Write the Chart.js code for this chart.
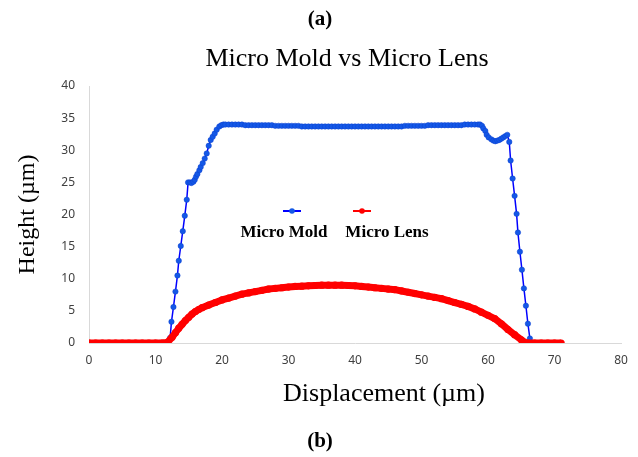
<!DOCTYPE html>
<html>
<head>
<meta charset="utf-8">
<script src="https://cdn.jsdelivr.net/npm/chart.js@4/dist/chart.umd.min.js"></script>
<style>
  html, body { margin: 0; padding: 0; background: #fff; }
  #wrap { position: relative; width: 638px; height: 457px; }
  #chart { position: absolute; left: 0; top: 0; }
  .lbl { position: absolute; transform: translate(-50%, -50%); white-space: nowrap;
         font-family: "Liberation Serif", "Times New Roman", serif; color: #000; line-height: 1; }
</style>
</head>
<body>
<div id="wrap">
  <canvas id="chart" width="638" height="457"></canvas>
  <div class="lbl" style="left:320px; top:18px; font-size:21px; font-weight:bold;">(a)</div>
  <div class="lbl" style="left:347px; top:58px; font-size:26px;">Micro Mold vs Micro Lens</div>
  <div class="lbl" style="left:384px; top:393px; font-size:26px;">Displacement (µm)</div>
  <div class="lbl" style="left:320px; top:440px; font-size:21px; font-weight:bold;">(b)</div>
</div>
<script>
// values
const seriesNames = ['Micro Mold', 'Micro Lens'];

const moldX = [10.0, 10.3, 10.6, 10.9, 11.2, 11.5, 11.9,
  12.2, 12.4, 12.7, 13.0, 13.3, 13.5, 13.8, 14.1, 14.4, 14.7, 14.9,
  15.2, 15.4, 15.7, 15.9, 16.1, 16.3, 16.6, 16.8, 17.1, 17.4, 17.7,
  18.0, 18.3, 18.6, 18.9, 19.2, 19.6, 19.9, 20.2,
  20.5, 21.0, 21.5, 22.0, 22.5, 23.0, 23.5, 24.0, 24.5, 25.0, 25.5, 26.0, 26.5,
  27.0, 27.5, 28.0, 28.5, 29.0, 29.5, 30.0, 30.5, 31.0, 31.5, 32.0, 32.5, 33.0,
  33.5, 34.0, 34.5, 35.0, 35.5, 36.0, 36.5, 37.0, 37.5, 38.0, 38.5, 39.0, 39.5,
  40.0, 40.5, 41.0, 41.5, 42.0, 42.5, 43.0, 43.5, 44.0, 44.5, 45.0, 45.5, 46.0,
  46.5, 47.0, 47.5, 48.0, 48.5, 49.0, 49.5, 50.0, 50.5, 51.0, 51.5, 52.0, 52.5,
  53.0, 53.5, 54.0, 54.5, 55.0, 55.5, 56.0, 56.5, 57.0, 57.5, 58.0,
  58.5, 58.8, 59.1, 59.3, 59.6, 59.8, 60.1, 60.5, 60.8, 61.1, 61.4, 61.7, 62.0,
  62.3, 62.6, 62.9, 63.2, 63.4, 63.7, 64.0, 64.3, 64.5, 64.8, 65.1, 65.4, 65.7,
  66.0, 66.3];
const moldY = [0, 0, 0, 0, 0, 0, 0,
  0.8, 3.3, 5.6, 8.0, 10.5, 12.8, 15.1, 17.4, 19.8, 22.3, 25.0,
  25.0, 24.9, 25.1, 25.4, 25.9, 26.3, 26.9, 27.4, 28.0, 28.7, 29.5,
  30.7, 31.6, 32.1, 32.6, 33.2, 33.7, 33.9, 34.0,
  34.0, 34.0, 34.0, 34.0, 34.0, 34.0, 33.9, 33.9, 33.9, 33.9, 33.9, 33.9, 33.9,
  33.9, 33.9, 33.8, 33.8, 33.8, 33.8, 33.8, 33.8, 33.8, 33.8, 33.7, 33.7, 33.7,
  33.7, 33.7, 33.7, 33.7, 33.7, 33.7, 33.7, 33.7, 33.7, 33.7, 33.7, 33.7, 33.7,
  33.7, 33.7, 33.7, 33.7, 33.7, 33.7, 33.7, 33.7, 33.7, 33.7, 33.7, 33.7, 33.7,
  33.7, 33.7, 33.8, 33.8, 33.8, 33.8, 33.8, 33.8, 33.8, 33.9, 33.9, 33.9, 33.9,
  33.9, 33.9, 33.9, 33.9, 33.9, 33.9, 33.9, 34.0, 34.0, 34.0, 34.0, 34.0,
  34.0, 33.8, 33.4, 33.0, 32.4, 32.0, 31.7, 31.5, 31.4, 31.5, 31.6, 31.8, 32.0,
  32.2, 32.4, 31.3, 28.4, 25.6, 22.9, 20.1, 17.2, 14.2, 11.4, 8.5, 5.8, 3.0,
  0.7, 0];

const lensX = [0, 1, 2, 3, 4, 5, 6, 7, 8, 9, 10, 11, 11.8,
  12.5, 13, 13.5, 14, 14.5, 15, 15.5, 16, 16.5, 17, 18, 19, 20, 21, 22, 23, 24,
  25, 26, 27, 28, 29, 30, 31, 32, 33, 34, 35, 36, 37, 38, 39, 40, 41, 42, 43,
  44, 45, 46, 47, 48, 49, 50, 51, 52, 53, 54, 55, 56, 57, 58, 59, 60, 61, 62,
  63, 64, 65, 65.7, 66, 67, 68, 69, 70, 71];
const lensY = [0, 0, 0, 0, 0, 0, 0, 0, 0, 0, 0, 0, 0.1,
  0.9, 1.6, 2.3, 2.9, 3.5, 4.0, 4.5, 4.9, 5.2, 5.5, 5.9, 6.3, 6.7, 7.0, 7.3, 7.6, 7.8,
  8.0, 8.2, 8.4, 8.5, 8.6, 8.7, 8.8, 8.85, 8.9, 8.95, 9.0, 9.0, 9.0, 9.0, 8.95, 8.9, 8.8, 8.7, 8.6,
  8.5, 8.4, 8.3, 8.1, 7.9, 7.7, 7.5, 7.3, 7.1, 6.9, 6.6, 6.3, 6.0, 5.7, 5.3, 4.8, 4.3, 3.8, 3.0,
  2.1, 1.3, 0.5, 0, 0, 0, 0, 0, 0, 0];

const xTicks = [0, 10, 20, 30, 40, 50, 60, 70, 80];
const yTicks = [0, 5, 10, 15, 20, 25, 30, 35, 40];

const toPoints = (xs, ys) => xs.map((x, i) => ({ x: x, y: ys[i] }));

// legend drawn with the marker above the label, like the original
const legendBelow = {
  id: 'legendBelow',
  afterDraw(chart, args, opts) {
    const ctx = chart.ctx;
    ctx.save();
    opts.items.forEach(item => {
      const ds = chart.data.datasets[item.index];
      ctx.strokeStyle = ds.borderColor;
      ctx.lineWidth = 2;
      ctx.beginPath();
      ctx.moveTo(item.lineX - 9, item.lineY);
      ctx.lineTo(item.lineX + 9, item.lineY);
      ctx.stroke();
      ctx.fillStyle = ds.pointBackgroundColor;
      ctx.beginPath();
      ctx.arc(item.lineX, item.lineY, 2.8, 0, Math.PI * 2);
      ctx.fill();
      ctx.fillStyle = '#000';
      ctx.font = 'bold 17px "Liberation Serif", "Times New Roman", serif';
      ctx.textAlign = 'center';
      ctx.textBaseline = 'middle';
      ctx.fillText(ds.label, item.textX, item.textY);
    });
    ctx.restore();
  }
};

new Chart(document.getElementById('chart'), {
  type: 'line',
  data: {
    datasets: [
      {
        label: seriesNames[0],
        data: toPoints(moldX, moldY),
        borderColor: '#0000ff',
        borderWidth: 1.5,
        pointBackgroundColor: '#1458e6',
        pointBorderColor: '#0a3fd0',
        pointBorderWidth: 0.5,
        pointRadius: 2.7,
        tension: 0,
        order: 1
      },
      {
        label: seriesNames[1],
        data: toPoints(lensX, lensY),
        borderColor: '#ff0000',
        borderWidth: 7,
        borderJoinStyle: 'round',
        pointBackgroundColor: '#ff0000',
        pointBorderWidth: 0,
        pointRadius: 3.6,
        tension: 0,
        order: 0
      }
    ]
  },
  options: {
    responsive: false,
    animation: false,
    layout: { padding: { top: 86, right: 17, bottom: 0, left: 0 } },
    plugins: {
      legend: { display: false },
      tooltip: { enabled: false },
      legendBelow: {
        items: [
          { index: 0, lineX: 292, lineY: 211, textX: 284, textY: 233 },
          { index: 1, lineX: 362, lineY: 211, textX: 387, textY: 233 }
        ]
      }
    },
    scales: {
      x: {
        type: 'linear',
        min: xTicks[0],
        max: xTicks[xTicks.length - 1],
        afterFit: s => { s.height = 114; },
        afterBuildTicks: s => { s.ticks = xTicks.map(v => ({ value: v })); },
        grid: { display: false, drawTicks: false },
        border: { display: true, color: '#d9d9d9', width: 1 },
        ticks: {
          padding: 10,
          color: '#404040',
          font: { family: '"Noto Sans", "Liberation Sans", sans-serif', size: 12 }
        }
      },
      y: {
        type: 'linear',
        min: yTicks[0],
        max: yTicks[yTicks.length - 1],
        afterFit: s => { s.width = 89; },
        afterBuildTicks: s => { s.ticks = yTicks.map(v => ({ value: v })); },
        grid: { display: false, drawTicks: false },
        border: { display: true, color: '#d9d9d9', width: 1 },
        ticks: {
          padding: 14,
          color: '#404040',
          font: { family: '"Noto Sans", "Liberation Sans", sans-serif', size: 12 }
        },
        title: {
          display: true,
          text: 'Height (µm)',
          color: '#000',
          padding: { top: 13, bottom: 0 },
          font: { family: '"Liberation Serif", "Times New Roman", serif', size: 24 }
        }
      }
    }
  },
  plugins: [legendBelow]
});
</script>
</body>
</html>
